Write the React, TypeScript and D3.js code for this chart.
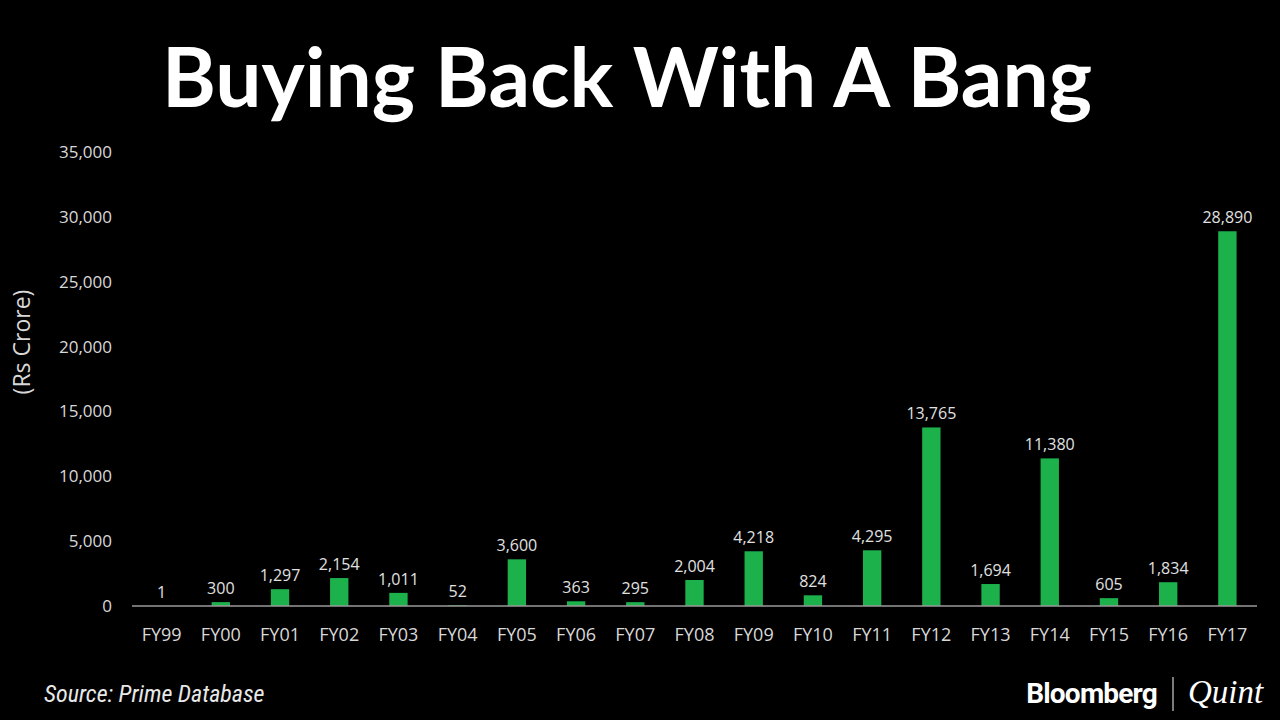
import { useEffect, useRef } from "react";
import * as d3 from "d3";

// Share buyback amounts, Rs crore
const years = [
  "FY99", "FY00", "FY01", "FY02", "FY03", "FY04", "FY05", "FY06", "FY07", "FY08",
  "FY09", "FY10", "FY11", "FY12", "FY13", "FY14", "FY15", "FY16", "FY17",
];
const buybacks = [
  1, 300, 1297, 2154, 1011, 52, 3600, 363, 295, 2004,
  4218, 824, 4295, 13765, 1694, 11380, 605, 1834, 28890,
];
const yTicks = [0, 5000, 10000, 15000, 20000, 25000, 30000, 35000];

const W = 1280;
const H = 720;

export default function App() {
  const svgRef = useRef<SVGSVGElement | null>(null);

  useEffect(() => {
    if (!svgRef.current) return;
    const svg = d3.select(svgRef.current);
    svg.selectAll("*").remove();

    const plot = { left: 132, right: 1257, top: 152, bottom: 606 };

    svg.append("rect").attr("width", W).attr("height", H).attr("fill", "#000");

    // Title
    svg
      .append("text")
      .attr("x", 627)
      .attr("y", 107)
      .attr("text-anchor", "middle")
      .attr("font-family", "Lato")
      .attr("font-weight", 700)
      .attr("font-size", 82)
      .attr("fill", "#fff")
      .text("Buying Back With A Bang");

    const x = d3
      .scaleBand<string>()
      .domain(years)
      .range([plot.left, plot.right])
      .paddingInner(0.69)
      .paddingOuter(0.345);

    const y = d3.scaleLinear().domain([0, 35000]).range([plot.bottom, plot.top]);

    const fmt = d3.format(",");
    const font = "'Open Sans', 'DejaVu Sans', sans-serif";

    // y tick labels
    svg
      .append("g")
      .selectAll("text")
      .data(yTicks)
      .join("text")
      .attr("x", 112)
      .attr("y", (d) => y(d))
      .attr("dy", "0.35em")
      .attr("text-anchor", "end")
      .attr("font-family", font)
      .attr("font-size", 17)
      .attr("fill", "#d8d8d8")
      .text((d) => fmt(d));

    // y axis title
    svg
      .append("text")
      .attr("transform", `translate(30,${(plot.top + plot.bottom) / 2 - 37}) rotate(-90)`)
      .attr("text-anchor", "middle")
      .attr("font-family", font)
      .attr("font-size", 23)
      .attr("fill", "#d8d8d8")
      .text("(Rs Crore)");

    // bars
    svg
      .append("g")
      .selectAll("rect")
      .data(years)
      .join("rect")
      .attr("x", (d) => x(d)!)
      .attr("width", x.bandwidth())
      .attr("y", (_, i) => y(buybacks[i]))
      .attr("height", (_, i) => y(0) - y(buybacks[i]))
      .attr("fill", "#1db14c");

    // baseline
    svg
      .append("line")
      .attr("x1", plot.left)
      .attr("x2", plot.right)
      .attr("y1", y(0))
      .attr("y2", y(0))
      .attr("stroke", "#9a9a9a")
      .attr("stroke-width", 1.5);

    // value labels
    svg
      .append("g")
      .selectAll("text")
      .data(years)
      .join("text")
      .attr("x", (d) => x(d)! + x.bandwidth() / 2)
      .attr("y", (_, i) => y(buybacks[i]) - 8)
      .attr("text-anchor", "middle")
      .attr("font-family", font)
      .attr("font-size", 16)
      .attr("fill", "#e0e0e0")
      .text((_, i) => fmt(buybacks[i]));

    // x labels
    svg
      .append("g")
      .selectAll("text")
      .data(years)
      .join("text")
      .attr("x", (d) => x(d)! + x.bandwidth() / 2)
      .attr("y", 641)
      .attr("text-anchor", "middle")
      .attr("font-family", font)
      .attr("font-size", 18)
      .attr("fill", "#d8d8d8")
      .text((d) => d);

    // footer
    svg
      .append("text")
      .attr("x", 44)
      .attr("y", 702)
      .attr("font-family", "'Liberation Sans Narrow', 'Roboto Condensed', 'Liberation Sans', sans-serif")
      .attr("font-style", "italic")
      .attr("font-size", 24)
      .attr("fill", "#e8e8e8")
      .text("Source: Prime Database");

    svg
      .append("text")
      .attr("x", 1157)
      .attr("y", 703)
      .attr("text-anchor", "end")
      .attr("font-family", "Roboto, 'Liberation Sans', sans-serif")
      .attr("font-weight", 700)
      .attr("font-size", 28)
      .attr("letter-spacing", -0.8)
      .attr("fill", "#fff")
      .text("Bloomberg");

    svg
      .append("line")
      .attr("x1", 1173)
      .attr("x2", 1173)
      .attr("y1", 677)
      .attr("y2", 711)
      .attr("stroke", "#cfcfcf")
      .attr("stroke-width", 1.2);

    svg
      .append("text")
      .attr("x", 1188)
      .attr("y", 703)
      .attr("font-family", "'Liberation Serif', 'DejaVu Serif', serif")
      .attr("font-style", "italic")
      .attr("font-size", 33)
      .attr("fill", "#fff")
      .text("Quint");
  }, []);

  return (
    <svg
      ref={svgRef}
      width={W}
      height={H}
      style={{ position: "absolute", left: 0, top: 0, display: "block" }}
    />
  );
}
